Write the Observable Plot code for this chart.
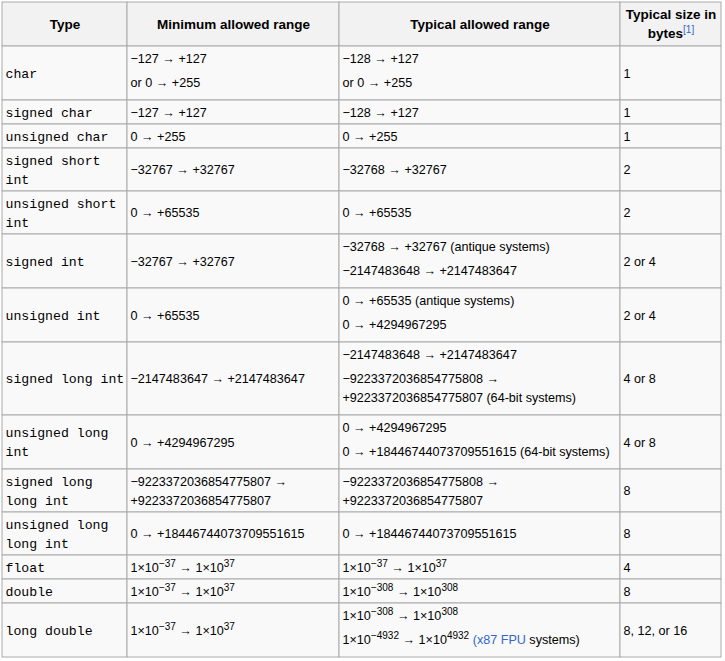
<!DOCTYPE html>
<html>
<head>
<meta charset="utf-8">
<script src="https://cdn.jsdelivr.net/npm/d3@7"></script>
<script src="https://cdn.jsdelivr.net/npm/@observablehq/plot@0.6"></script>
<style>
  html, body { margin: 0; padding: 0; background: #fff; }
</style>
</head>
<body>
<div id="chart"></div>
<script>
// ---- Data (cell contents). "\n" = wrapped line, "\n\n" = new paragraph,
// ^{..} = superscript, @{..} = link text, ^@{..} = superscript link
const headers = ["Type", "Minimum allowed range", "Typical allowed range", "Typical size in\nbytes^@{[1]}"];

const types = [
  "char", "signed char", "unsigned char", "signed short\nint", "unsigned short\nint",
  "signed int", "unsigned int", "signed long int", "unsigned long\nint",
  "signed long\nlong int", "unsigned long\nlong int", "float", "double", "long double"
];

const minRange = [
  "−127 → +127\n\nor 0 → +255",
  "−127 → +127",
  "0 → +255",
  "−32767 → +32767",
  "0 → +65535",
  "−32767 → +32767",
  "0 → +65535",
  "−2147483647 → +2147483647",
  "0 → +4294967295",
  "−9223372036854775807 →\n+9223372036854775807",
  "0 → +18446744073709551615",
  "1×10^{−37} → 1×10^{37}",
  "1×10^{−37} → 1×10^{37}",
  "1×10^{−37} → 1×10^{37}"
];

const typicalRange = [
  "−128 → +127\n\nor 0 → +255",
  "−128 → +127",
  "0 → +255",
  "−32768 → +32767",
  "0 → +65535",
  "−32768 → +32767 (antique systems)\n\n−2147483648 → +2147483647",
  "0 → +65535 (antique systems)\n\n0 → +4294967295",
  "−2147483648 → +2147483647\n\n−9223372036854775808 →\n+9223372036854775807 (64-bit systems)",
  "0 → +4294967295\n\n0 → +18446744073709551615 (64-bit systems)",
  "−9223372036854775808 →\n+9223372036854775807",
  "0 → +18446744073709551615",
  "1×10^{−37} → 1×10^{37}",
  "1×10^{−308} → 1×10^{308}",
  "1×10^{−308} → 1×10^{308}\n\n1×10^{−4932} → 1×10^{4932} @{(x87 FPU} systems)"
];

const sizes = ["1", "1", "1", "2", "2", "2 or 4", "2 or 4", "4 or 8", "4 or 8", "8", "8", "4", "8", "8, 12, or 16"];

// ---- Layout (derived from content)
const W = 725, H = 661;
const colWidths = [125, 212, 281, 101];
const x0 = 2, y0 = 2;
const LINE = 19, PARA = 24, PAD = 5, PMARGIN = 6;
const sans = "'Liberation Sans', Arial, sans-serif";
const mono = "'Liberation Mono', 'Courier New', monospace";

const colX = [x0];
colWidths.forEach(w => colX.push(colX[colX.length - 1] + w));

const parse = s => s.split("\n\n").map(p => p.split("\n"));
function cellHeight(paras) {
  const L = paras.reduce((a, p) => a + p.length, 0);
  const P = paras.length;
  return PAD + LINE * L + (PARA - LINE) * (P - 1) + (P > 1 ? PMARGIN : 0);
}

const allRows = [headers, ...types.map((t, i) => [t, minRange[i], typicalRange[i], sizes[i]])];

const rects = [];
const textLines = [];
let yTop = y0;
allRows.forEach((row, r) => {
  const cells = row.map(parse);
  const rowH = Math.max(...cells.map(cellHeight)) + (r === 0 ? 1 : 0);
  cells.forEach((paras, c) => {
    rects.push({x1: colX[c], x2: colX[c + 1], y1: yTop, y2: yTop + rowH, header: r === 0});
    const offs = [];
    let o = 0, first = true;
    paras.forEach((p) => {
      p.forEach((line, li) => {
        if (!first) o += (li === 0 ? PARA : LINE);
        offs.push({line, o});
        first = false;
      });
    });
    const span = offs[offs.length - 1].o;
    const center = yTop + rowH / 2 - (paras.length > 1 ? 3 : 0);
    offs.forEach(({line, o}) => {
      textLines.push({
        text: line,
        y: center - span / 2 + o,
        x: r === 0 ? (colX[c] + colX[c + 1]) / 2 : colX[c] + 3,
        kind: r === 0 ? "header" : (c === 0 ? "mono" : "body")
      });
    });
  });
  yTop += rowH;
});

const chart = Plot.plot({
  width: W,
  height: H,
  margin: 0,
  style: {background: "#fff"},
  x: {domain: [0, W], range: [0, W], axis: null},
  y: {domain: [0, H], range: [0, H], axis: null},
  marks: [
    Plot.rect(rects.filter(d => d.header), {x1: "x1", x2: "x2", y1: "y1", y2: "y2", fill: "#f2f2f2", stroke: "#aaaaaa"}),
    Plot.rect(rects.filter(d => !d.header), {x1: "x1", x2: "x2", y1: "y1", y2: "y2", fill: "#f9f9f9", stroke: "#aaaaaa"}),
    Plot.text(textLines.filter(d => d.kind === "header"), {
      x: "x", y: "y", text: "text", textAnchor: "middle", fontWeight: "bold",
      fontSize: 13.5, fontFamily: sans, fill: "#000"
    }),
    Plot.text(textLines.filter(d => d.kind === "mono"), {
      x: "x", y: "y", text: "text", textAnchor: "start",
      fontSize: 13.2, fontFamily: mono, fill: "#000"
    }),
    Plot.text(textLines.filter(d => d.kind === "body"), {
      x: "x", y: "y", text: "text", textAnchor: "start",
      fontSize: 12.6, fontFamily: sans, fill: "#000"
    })
  ]
});

// Rich text: superscripts and links inside the text marks
const NS = "http://www.w3.org/2000/svg";
d3.select(chart).selectAll("text").each(function() {
  const s = this.textContent;
  if (!/[\^@]\{/.test(s)) return;
  const parts = s.split(/(\^@\{[^}]*\}|\^\{[^}]*\}|@\{[^}]*\})/).filter(p => p);
  while (this.firstChild) this.removeChild(this.firstChild);
  let raised = false;
  for (const p of parts) {
    const ts = document.createElementNS(NS, "tspan");
    let txt = p, sup = false, link = false;
    if (p.startsWith("^@{")) { txt = p.slice(3, -1); sup = true; link = true; }
    else if (p.startsWith("^{")) { txt = p.slice(2, -1); sup = true; }
    else if (p.startsWith("@{")) { txt = p.slice(2, -1); link = true; }
    if (sup) {
      if (!raised) ts.setAttribute("dy", -5);
      ts.setAttribute("font-size", 10);
      ts.setAttribute("font-weight", "normal");
      raised = true;
    } else if (raised) {
      ts.setAttribute("dy", 5);
      raised = false;
    }
    if (link) ts.setAttribute("fill", "#3366cc");
    ts.textContent = txt;
    this.appendChild(ts);
  }
});

document.getElementById("chart").appendChild(chart);
</script>
</body>
</html>
